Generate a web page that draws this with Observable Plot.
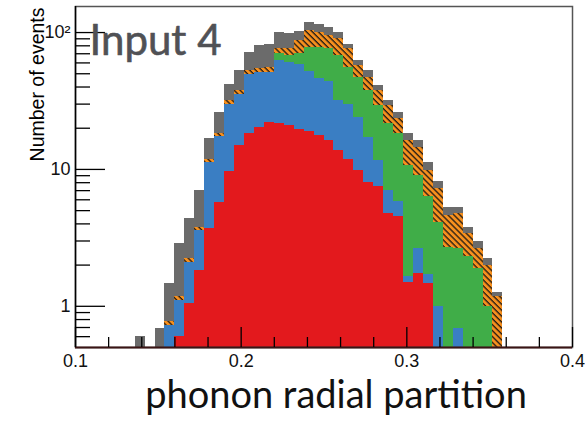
<!DOCTYPE html>
<html><head><meta charset="utf-8">
<script src="https://cdn.jsdelivr.net/npm/d3@7"></script>
<script src="https://cdn.jsdelivr.net/npm/@observablehq/plot@0.6"></script>
<style>
body{margin:0;background:#fff;}
#wrap{position:relative;width:585px;height:425px;overflow:hidden;background:#fff;}
#xlabel{position:absolute;left:86px;width:500px;top:378px;height:30px;text-align:center;font-family:Lato,'Open Sans',sans-serif;font-size:38px;line-height:30px;color:#111;white-space:nowrap;}
</style></head><body><div id="wrap"><div id="chart"></div><div id="xlabel">phonon radial partition</div></div>
<script>
// histogram bins: first bin lower edge and width
const binStart = 0.136, binWidth = 0.006;
// per-bin contents of each stacked component (bins 0.136 ... 0.352)
const red    = [0,0,0,0,0.6,1.05,1.83,3.7,5.77,9.6,14.9,18.2,20.4,22.2,21.5,21,19.5,19,17.7,16.3,13.7,11.9,9.8,8,7.5,4.75,4.5,1.5,1.73,1.46,0,0,0,0,0,0,0];
const blue   = [0,0,0,0.73,0.5,1.05,1.77,7.6,11.5,20.4,20.6,31.3,30.6,28.8,40.5,39,38.5,33,28.3,27.7,18.3,18.1,14.2,9,4.1,2.25,1.3,0.14,0.92,0.24,1.0,0,0.69,0,0,0,0];
const green  = [0,0,0,0,0,0,0,0,0,0,0,0,0,0,8,8,12,26,32,32,36,26,23.3,20.7,17.7,14.7,12.5,9.06,6.35,4.6,3.12,2.7,1.96,2.3,1.9,1.0,0];
const orange = [0,0,0,0.05,0.07,0.14,0.19,0.6,0.9,1.8,2.1,3.3,3.5,5,6,8,17.4,25,22,19,22,20,10.2,9.6,8.4,7.6,5.3,5.6,5.5,3.5,3.08,1.9,2.11,1.1,0.75,0.99,1.18];
const gray   = [0.6,0,0.69,0.68,1.7,2.12,3.21,4.9,7.9,10.2,15.4,19,25.5,26,24,22,14.2,15,14,14,10,6,5.2,5.5,3.3,2.5,2.6,1.9,1.8,1.5,0.9,0.7,0.54,0.39,0.3,0.24,0.09];

const xTicksMajor = [0.1, 0.2, 0.3, 0.4];
const xTickLabels = ["0.1", "0.2", "0.3", "0.4"];
const xTicksMinor = [0.12,0.14,0.16,0.18,0.22,0.24,0.26,0.28,0.32,0.34,0.36,0.38];
const yTicksMajor = [1, 10, 100];
const yTickLabels = ["1", "10", "10\u00B2"];
const yTicksMinor = [0.6,0.7,0.8,0.9,2,3,4,5,6,7,8,9,20,30,40,50,60,70,80,90];
const yMin = 0.5, yMax = 155;

const layers = [
  {name: "red",    values: red,    fill: "#e3191d"},
  {name: "blue",   values: blue,   fill: "#3a7ec3"},
  {name: "green",  values: green,  fill: "#40ad48"},
  {name: "orange", values: orange, fill: "url(#hatch)"},
  {name: "gray",   values: gray,   fill: "#6b6b6b"}
];

const rects = [];
for (let i = 0; i < red.length; i++) {
  let cum = 0;
  const x1 = binStart + i * binWidth;
  for (const L of layers) {
    const v = L.values[i];
    const lo = cum, hi = cum + v;
    cum = hi;
    if (v > 0 && hi > yMin) rects.push({layer: L.name, x1, x2: x1 + binWidth, y1: Math.max(lo, yMin), y2: hi});
  }
}

const chart = Plot.plot({
  width: 585, height: 372,
  marginLeft: 75, marginRight: 13, marginTop: 6, marginBottom: 25,
  style: {fontFamily: "'Liberation Sans', Arial, sans-serif", fontSize: "18px", color: "#000", background: "#fff"},
  x: {domain: [0.1, 0.4]},
  y: {type: "log", domain: [yMin, yMax]},
  marks: [
    ...layers.map(L => Plot.rect(rects.filter(r => r.layer === L.name), {
      x1: "x1", x2: "x2", y1: "y1", y2: "y2", fill: L.fill, shapeRendering: "crispEdges"
    })),
    Plot.frame({stroke: "#555", strokeWidth: 1.5}),
    Plot.ruleX([0.1], {stroke: "#000", strokeWidth: 1.5}),
    Plot.ruleY([yMin], {stroke: "#3a1414", strokeWidth: 2}),
    Plot.axisX({ticks: xTicksMajor, tickSize: 0, tickPadding: 7, tickFormat: d => xTickLabels[xTicksMajor.indexOf(d)], label: null, fontSize: 18, fill: "#111"}),
    Plot.axisX({ticks: xTicksMajor, tickSize: -20, fill: "none", label: null, stroke: "#000", strokeWidth: 1.3}),
    Plot.axisX({ticks: xTicksMinor, tickSize: -10, fill: "none", label: null, stroke: "#000", strokeWidth: 1.3}),
    Plot.axisY({ticks: yTicksMajor, tickSize: 0, tickPadding: 5, tickFormat: d => yTickLabels[yTicksMajor.indexOf(d)], label: null, fontSize: 18, fill: "#111"}),
    Plot.axisY({ticks: yTicksMajor, tickSize: -30, fill: "none", label: null, stroke: "#000", strokeWidth: 1.3}),
    Plot.axisY({ticks: yTicksMinor, tickSize: -15, fill: "none", label: null, stroke: "#000", strokeWidth: 1.3}),
    Plot.text(["Number of events"], {frameAnchor: "top-left", text: d => d, rotate: -90, textAnchor: "end", lineAnchor: "bottom", dx: -32, dy: 1, fontSize: 19.5, fill: "#000"}),
    Plot.text(["Input 4"], {frameAnchor: "top-left", text: d => d, textAnchor: "start", lineAnchor: "bottom", dx: 14, dy: 48, fontSize: 42, fontFamily: "Lato, 'Open Sans', sans-serif", fill: "#505155", stroke: "#505155", strokeWidth: 0.6})
  ]
});

// hatch pattern for the orange component
const ns = "http://www.w3.org/2000/svg";
const defs = document.createElementNS(ns, "defs");
const pat = document.createElementNS(ns, "pattern");
pat.setAttribute("id", "hatch");
pat.setAttribute("patternUnits", "userSpaceOnUse");
pat.setAttribute("width", "4.2");
pat.setAttribute("height", "4.2");
pat.setAttribute("patternTransform", "rotate(-45)");
const bg = document.createElementNS(ns, "rect");
bg.setAttribute("width", "4.2"); bg.setAttribute("height", "4.2"); bg.setAttribute("fill", "#f7901e");
const ln = document.createElementNS(ns, "line");
ln.setAttribute("x1", "1"); ln.setAttribute("y1", "-1"); ln.setAttribute("x2", "1"); ln.setAttribute("y2", "6");
ln.setAttribute("stroke", "#2b2015"); ln.setAttribute("stroke-width", "1.4");
pat.appendChild(bg); pat.appendChild(ln);
defs.appendChild(pat);
chart.insertBefore(defs, chart.firstChild);

document.getElementById("chart").appendChild(chart);
</script>
</body></html>
